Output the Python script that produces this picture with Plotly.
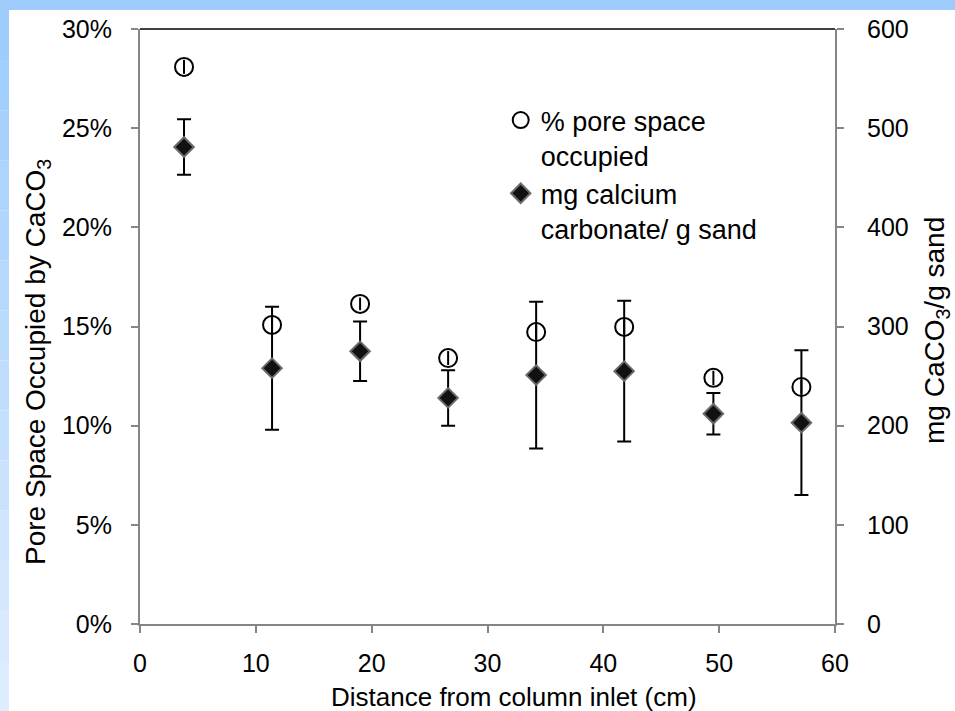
import plotly.graph_objects as go

# ---- data ----
distance_cm = [3.8, 11.4, 19.0, 26.6, 34.2, 41.8, 49.5, 57.1]
pore_pct = [0.2809, 0.1508, 0.1614, 0.1341, 0.1472, 0.1498, 0.1241, 0.1195]
pore_err = [0.0035, 0.0035, 0.0032, 0.0035, 0.0035, 0.0035, 0.0036, 0.0035]
caco3_mg = [481, 258, 275, 228, 251, 255, 212, 203]
caco3_err = [28, 62, 30, 28, 74, 71, 21, 73]

x_ticks = [0, 10, 20, 30, 40, 50, 60]
y_ticks = [0, 0.05, 0.10, 0.15, 0.20, 0.25, 0.30]
y2_ticks = [0, 100, 200, 300, 400, 500, 600]

x_title = "Distance from column inlet (cm)"
y_title = "Pore Space Occupied by CaCO<sub>3</sub>"
y2_title = "mg CaCO<sub>3</sub>/g sand"

FONT = "Liberation Sans, Arial, sans-serif"
W, H = 955, 711
ML, MR, MT, MB = 140, 120, 29, 87
PW, PH = W - ML - MR, H - MT - MB


def px_x(p):
    return (p - ML) / PW


def px_y(p):
    return (H - MB - p) / PH


fig = go.Figure()

fig.add_trace(go.Scatter(
    x=distance_cm, y=pore_pct, mode="markers",
    name="% pore space<br>occupied",
    marker=dict(symbol="circle-open", size=18, color="black",
                line=dict(width=2, color="black")),
    error_y=dict(type="data", array=pore_err, visible=True,
                 color="black", thickness=2, width=0),
    yaxis="y",
))

fig.add_trace(go.Scatter(
    x=distance_cm, y=caco3_mg, mode="markers",
    name="mg calcium<br>carbonate/ g sand",
    marker=dict(symbol="diamond", size=15, color="#111111",
                line=dict(width=2, color="#6a6a6a")),
    error_y=dict(type="data", array=caco3_err, visible=True,
                 color="black", thickness=2, width=7),
    yaxis="y2",
))

shapes = []
# light-blue slide background showing at top and left edge
shapes.append(dict(type="rect", xref="paper", yref="paper",
                   x0=px_x(0), x1=px_x(W), y0=px_y(10), y1=px_y(0),
                   fillcolor="#9ECDFD", line=dict(width=0), layer="below"))
n = 14
for i in range(n):
    t = i / (n - 1)
    r = int(158 + (222 - 158) * t)
    g = int(205 + (236 - 205) * t)
    b = int(253 + (255 - 253) * t)
    shapes.append(dict(type="rect", xref="paper", yref="paper",
                       x0=px_x(0), x1=px_x(9),
                       y0=px_y(10 + (H - 10) * (i + 1) / n),
                       y1=px_y(10 + (H - 10) * i / n),
                       fillcolor=f"rgb({r},{g},{b})", line=dict(width=0),
                       layer="below"))
# black top border of the plot area
shapes.append(dict(type="line", xref="paper", yref="paper",
                   x0=0, x1=1, y0=1, y1=1,
                   line=dict(color="black", width=1.5)))

annotations = [
    dict(text=x_title, xref="paper", yref="paper",
         x=px_x(514), y=px_y(697), xanchor="center", yanchor="middle",
         showarrow=False, font=dict(family=FONT, size=26, color="black")),
    dict(text=y_title, xref="paper", yref="paper", textangle=-90,
         x=px_x(37), y=px_y(362), xanchor="center", yanchor="middle",
         showarrow=False, font=dict(family=FONT, size=28, color="black")),
    dict(text=y2_title, xref="paper", yref="paper", textangle=-90,
         x=px_x(936), y=px_y(330), xanchor="center", yanchor="middle",
         showarrow=False, font=dict(family=FONT, size=28, color="black")),
]

axis_common = dict(showgrid=False, zeroline=False, showline=True,
                   linecolor="#868686", linewidth=2, ticks="outside",
                   ticklen=7, tickwidth=2, tickcolor="#868686",
                   tickfont=dict(family=FONT, size=25, color="black"))

fig.update_layout(
    width=W, height=H,
    margin=dict(l=ML, r=MR, t=MT, b=MB),
    paper_bgcolor="white", plot_bgcolor="white",
    font=dict(family=FONT, color="black"),
    shapes=shapes,
    annotations=annotations,
    showlegend=True,
    legend=dict(x=0.519, y=px_y(96), xanchor="left", yanchor="top",
                valign="top", bgcolor="rgba(0,0,0,0)",
                font=dict(family=FONT, size=27, color="black"),
                tracegroupgap=0),
    xaxis=dict(range=[0, 60], tickvals=x_ticks, ticklabelstandoff=9,
               **axis_common),
    yaxis=dict(range=[0, 0.30], tickvals=y_ticks, tickformat=".0%",
               ticklabelstandoff=14, **axis_common),
    yaxis2=dict(range=[0, 600], tickvals=y2_ticks, overlaying="y",
                side="right", ticklabelstandoff=18, **axis_common),
)

fig.write_html("out.html")
